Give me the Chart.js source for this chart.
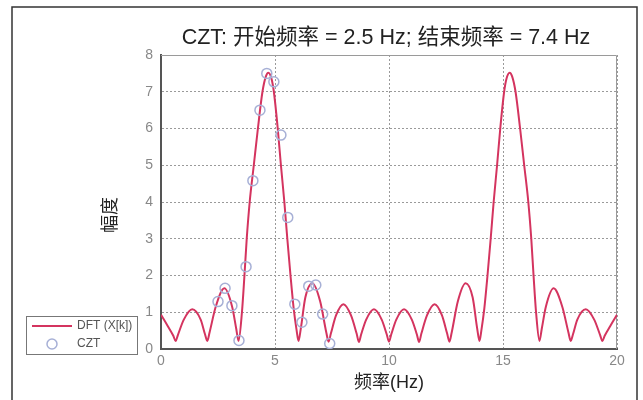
<!DOCTYPE html>
<html>
<head>
<meta charset="utf-8">
<script src="https://cdn.jsdelivr.net/npm/chart.js@4/dist/chart.umd.min.js"></script>
<style>
  html, body { margin: 0; padding: 0; background: #fff; }
  #wrap { position: relative; width: 643px; height: 400px; }
</style>
</head>
<body>
<div id="wrap"><canvas id="czt-chart" width="643" height="400"></canvas></div>
<script>
// --- datos ---
const titleText = "CZT: 开始频率 = 2.5 Hz; 结束频率 = 7.4 Hz";
const xLabel = "频率(Hz)";
const yLabel = "幅度";
const legendLabels = ["DFT (X[k])", "CZT"];

// curva DFT (X[k]) — frecuencia (Hz) y magnitud
const dftFreq = [0, 0.3, 0.54, 0.64, 0.74, 1.0, 1.37, 1.74, 1.93, 2.03, 2.13, 2.4, 2.78, 3.12, 3.3, 3.4,
  3.55, 3.66, 3.76, 3.89, 4.07, 4.25, 4.45, 4.6, 4.71, 4.85, 4.95, 5.12, 5.26, 5.41, 5.54, 5.68, 5.82, 5.95, 6.03,
  6.13, 6.33, 6.64, 6.98, 7.25, 7.35, 7.45, 7.68, 8.0, 8.33, 8.58, 8.68, 8.78, 9.0, 9.34, 9.68, 9.9, 10.0,
  10.1, 10.32, 10.66, 11.0, 11.22, 11.32, 11.42, 11.67, 12.0, 12.32, 12.55, 12.65, 12.75, 13.02, 13.36, 13.67, 13.87, 13.97,
  14.05, 14.18, 14.32, 14.46, 14.59, 14.74, 14.88, 15.05, 15.15, 15.29, 15.4, 15.55, 15.75, 15.93, 16.11, 16.24, 16.34, 16.45, 16.6,
  16.7, 16.88, 17.22, 17.6, 17.87, 17.97, 18.07, 18.26, 18.63, 19.0, 19.26, 19.36, 19.46, 19.7, 20];
const dftMag = [0.93, 0.62, 0.36, 0.22, 0.38, 0.80, 1.08, 0.80, 0.40, 0.22, 0.45, 1.15, 1.65, 1.15, 0.55, 0.22,
  1.0, 2.0, 3.0, 4.0, 5.0, 6.0, 7.0, 7.42, 7.52, 7.35, 7.0, 6.0, 5.0, 4.0, 3.0, 2.0, 1.1, 0.5, 0.22,
  0.55, 1.4, 1.79, 1.3, 0.45, 0.2, 0.42, 0.92, 1.22, 0.92, 0.42, 0.19, 0.4, 0.8, 1.08, 0.8, 0.4, 0.2,
  0.4, 0.8, 1.08, 0.8, 0.4, 0.19, 0.42, 0.92, 1.22, 0.92, 0.42, 0.2, 0.45, 1.3, 1.79, 1.4, 0.55, 0.22,
  0.5, 1.1, 2.0, 3.0, 4.0, 5.0, 6.0, 7.0, 7.35, 7.52, 7.42, 7.0, 6.0, 5.0, 4.0, 3.0, 2.0, 1.0, 0.22,
  0.55, 1.15, 1.65, 1.15, 0.45, 0.22, 0.40, 0.80, 1.08, 0.80, 0.38, 0.22, 0.36, 0.62, 0.93];

// puntos CZT entre 2.5 y 7.4 Hz
const cztFreq = [2.5, 2.81, 3.11, 3.42, 3.73, 4.03, 4.34, 4.64, 4.95, 5.26, 5.56, 5.87, 6.18, 6.48, 6.79, 7.09, 7.4];
const cztMag = [1.29, 1.65, 1.18, 0.23, 2.24, 4.58, 6.50, 7.50, 7.27, 5.82, 3.58, 1.22, 0.73, 1.71, 1.74, 0.95, 0.15];

const xTicks = [0, 5, 10, 15, 20];
const yTicks = [0, 1, 2, 3, 4, 5, 6, 7, 8];

const lineColor = "#d4345f";
const circleColor = "#a7b0d6";
const fontFamily = "'Liberation Sans', 'Noto Sans CJK SC', sans-serif";

// --- plugin: marco, títulos y leyenda ---
const decorations = {
    id: "decorations",
    beforeDatasetsDraw(chart) {
        const { ctx, chartArea: a } = chart;
        ctx.save();
        ctx.strokeStyle = "#9a9a9a";
        ctx.lineWidth = 1;
        ctx.beginPath();
        ctx.moveTo(a.left, a.top + 0.5);
        ctx.lineTo(a.right - 0.5, a.top + 0.5);
        ctx.lineTo(a.right - 0.5, a.bottom);
        ctx.stroke();
        ctx.restore();
    },
    afterDraw(chart) {
        const { ctx, chartArea: a } = chart;
        ctx.save();
        // marco exterior
        ctx.strokeStyle = "#333";
        ctx.lineWidth = 1.5;
        ctx.beginPath();
        ctx.moveTo(12, 400);
        ctx.lineTo(12, 7);
        ctx.lineTo(637, 7);
        ctx.lineTo(637, 400);
        ctx.stroke();

        // título
        ctx.fillStyle = "#222";
        ctx.textAlign = "center";
        ctx.textBaseline = "middle";
        ctx.font = "21.5px " + fontFamily;
        ctx.fillText(titleText, 386, 38);

        // títulos de ejes
        ctx.font = "18px " + fontFamily;
        ctx.fillText(xLabel, (a.left + a.right) / 2, 383);
        ctx.translate(111, 215);
        ctx.rotate(-Math.PI / 2);
        ctx.fillText(yLabel, 0, 0);
        ctx.restore();

        // leyenda
        ctx.save();
        ctx.fillStyle = "#fff";
        ctx.fillRect(26, 316, 112, 38);
        ctx.strokeStyle = "#777";
        ctx.lineWidth = 1;
        ctx.strokeRect(26.5, 316.5, 111, 38);
        ctx.strokeStyle = lineColor;
        ctx.lineWidth = 2;
        ctx.beginPath();
        ctx.moveTo(32, 326);
        ctx.lineTo(72, 326);
        ctx.stroke();
        ctx.strokeStyle = circleColor;
        ctx.lineWidth = 1.5;
        ctx.beginPath();
        ctx.arc(52, 344, 5, 0, Math.PI * 2);
        ctx.stroke();
        ctx.fillStyle = "#555";
        ctx.font = "12px " + fontFamily;
        ctx.textAlign = "left";
        ctx.textBaseline = "middle";
        ctx.fillText(legendLabels[0], 77, 326);
        ctx.fillText(legendLabels[1], 77, 344);
        ctx.restore();
    }
};

const ctx = document.getElementById("czt-chart").getContext("2d");

new Chart(ctx, {
    type: "line",
    data: {
        datasets: [
            {
                label: legendLabels[1],
                data: cztFreq.map((f, i) => ({ x: f, y: cztMag[i] })),
                showLine: false,
                pointStyle: "circle",
                pointRadius: 5,
                pointBorderWidth: 1.5,
                pointBorderColor: circleColor,
                pointBackgroundColor: "rgba(0,0,0,0)",
                order: 0
            },
            {
                label: legendLabels[0],
                data: dftFreq.map((f, i) => ({ x: f, y: dftMag[i] })),
                borderColor: lineColor,
                borderWidth: 2,
                pointRadius: 0,
                cubicInterpolationMode: "monotone",
                fill: false,
                order: 1
            }
        ]
    },
    options: {
        responsive: false,
        animation: false,
        layout: { padding: { left: 100, right: 26, top: 55, bottom: 20 } },
        plugins: {
            legend: { display: false },
            title: { display: false },
            tooltip: { enabled: false }
        },
        scales: {
            x: {
                type: "linear",
                min: 0,
                max: 20,
                afterBuildTicks: (s) => { s.ticks = xTicks.map(v => ({ value: v })); },
                afterFit: (s) => { s.height = 31; },
                ticks: { color: "#888", font: { size: 14, family: fontFamily }, padding: 4 },
                grid: { color: "#9a9a9a", drawTicks: false, lineWidth: 1 },
                border: { color: "#555", width: 2, dash: [2, 2] }
            },
            y: {
                min: 0,
                max: 8,
                afterBuildTicks: (s) => { s.ticks = yTicks.map(v => ({ value: v })); },
                afterFit: (s) => { s.width = 61; },
                ticks: { color: "#888", font: { size: 14, family: fontFamily }, padding: 8 },
                grid: { color: "#9a9a9a", drawTicks: false, lineWidth: 1 },
                border: { color: "#555", width: 2, dash: [2, 2] }
            }
        }
    },
    plugins: [decorations]
});
</script>
</body>
</html>
